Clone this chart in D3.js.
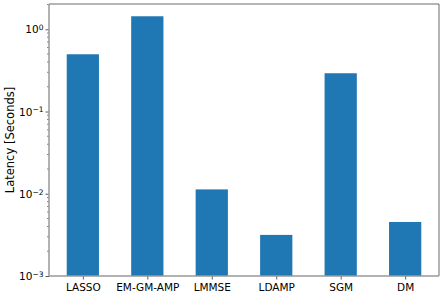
<!DOCTYPE html>
<html lang="en">
<head>
<meta charset="UTF-8">
<script src="https://d3js.org/d3.v7.min.js"></script>
<style>
  body { margin: 0; background: #fff; font-family: "DejaVu Sans", sans-serif; }
  .tick text { font-family: "DejaVu Sans", sans-serif; }
</style>
</head>
<body>
<div id="chart"></div>
<script>
// data
const methods = ["LASSO", "EM-GM-AMP", "LMMSE", "LDAMP", "SGM", "DM"];
const latency = [0.497, 1.44, 0.0113, 0.00316, 0.292, 0.00454];
const decades = [-3, -2, -1, 0];

const W = 443, H = 296;
const margin = { top: 4, right: 4, bottom: 20, left: 49 };
const width = W - margin.left - margin.right;
const height = H - margin.top - margin.bottom;

const svg = d3.select("#chart").append("svg")
  .attr("width", W).attr("height", H);
const g = svg.append("g")
  .attr("transform", `translate(${margin.left},${margin.top})`);

// x as linear over bar index, like matplotlib's default margins
const x = d3.scaleLinear().domain([-0.525, methods.length - 0.475]).range([0, width]);
const y = d3.scaleLog().domain([1e-3, 2.03]).range([height, 0]);
const barW = x(0.5) - x(0);

g.selectAll("rect.bar")
  .data(latency)
  .join("rect")
  .attr("class", "bar")
  .attr("x", (d, i) => x(i) - barW / 2)
  .attr("width", barW)
  .attr("y", d => y(d))
  .attr("height", d => y(1e-3) - y(d))
  .attr("fill", "#1f77b4");

// minor ticks
const minor = [];
decades.forEach(e => { for (let k = 2; k <= 9; k++) { const v = k * Math.pow(10, e); if (v <= 2.03) minor.push(v); } });
g.selectAll("line.minor")
  .data(minor)
  .join("line")
  .attr("x1", -2).attr("x2", 0)
  .attr("y1", d => y(d)).attr("y2", d => y(d))
  .attr("stroke", "#333").attr("stroke-width", 0.6);

// y axis
const yAxis = g.append("g")
  .call(d3.axisLeft(y).tickValues(decades.map(e => Math.pow(10, e))).tickSize(3.5).tickFormat(""));
yAxis.select(".domain").remove();
yAxis.selectAll(".tick line").attr("stroke", "#333").attr("stroke-width", 0.8);
yAxis.selectAll(".tick").each(function(d) {
  const e = Math.round(Math.log10(d));
  const t = d3.select(this).append("text")
    .attr("x", -5.5).attr("dy", "0.35em")
    .attr("text-anchor", "end")
    .attr("fill", "#000").style("font-size", "10.5px");
  t.append("tspan").text("10");
  t.append("tspan").attr("dy", "-0.45em").style("font-size", "7.5px").text(e === 0 ? "0" : "\u2212" + (-e));
});

// x axis
const xAxis = g.append("g")
  .attr("transform", `translate(0,${height})`)
  .call(d3.axisBottom(x).tickValues(d3.range(methods.length)).tickSize(3.5).tickFormat(i => methods[i]));
xAxis.select(".domain").remove();
xAxis.selectAll(".tick line").attr("stroke", "#333").attr("stroke-width", 0.8);
xAxis.selectAll(".tick text").attr("fill", "#000").style("font-size", "10.5px").attr("dy", "0.85em");

// spines
g.append("line").attr("x1", 0).attr("x2", width).attr("y1", 0).attr("y2", 0).attr("stroke", "#444").attr("stroke-width", 0.8);
g.append("line").attr("x1", width).attr("x2", width).attr("y1", 0).attr("y2", height).attr("stroke", "#444").attr("stroke-width", 0.8);
g.append("line").attr("x1", 0).attr("x2", 0).attr("y1", 0).attr("y2", height).attr("stroke", "#999").attr("stroke-width", 1.5);
g.append("line").attr("x1", 0).attr("x2", width).attr("y1", height).attr("y2", height).attr("stroke", "#999").attr("stroke-width", 1.5);

// y label
svg.append("text")
  .attr("transform", `translate(14,${margin.top + height / 2}) rotate(-90)`)
  .attr("text-anchor", "middle")
  .style("font-size", "11.5px")
  .text("Latency [Seconds]");
</script>
</body>
</html>
